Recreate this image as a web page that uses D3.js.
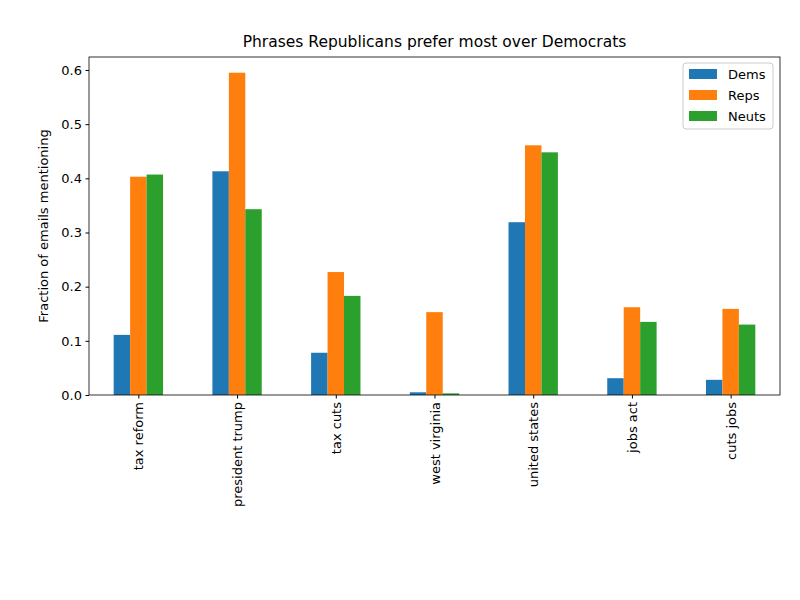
<!DOCTYPE html>
<html><head><meta charset="utf-8">
<script src="https://cdn.jsdelivr.net/npm/d3@7"></script>
<style>body{margin:0;background:#fff}text{font-family:"DejaVu Sans",sans-serif}</style>
</head><body>
<svg id="c" width="800" height="600"></svg>
<script>
const phrases = ['tax reform','president trump','tax cuts','west virginia','united states','jobs act','cuts jobs'];
const seriesNames = ['Dems','Reps','Neuts'];
const dems  = [0.111,0.413,0.078,0.005,0.319,0.031,0.028];
const reps  = [0.403,0.595,0.227,0.153,0.461,0.162,0.159];
const neuts = [0.407,0.343,0.183,0.003,0.448,0.135,0.130];
const colors = ['#1f77b4','#ff7f0e','#2ca02c'];
const yTicks = [0,0.1,0.2,0.3,0.4,0.5,0.6];

const svg = d3.select('#c');
const L = 89, R = 780, T = 57, B = 395;
const x = d3.scaleLinear().domain([-0.5, phrases.length - 0.5]).range([L, R]);
const y = d3.scaleLinear().domain([0, 0.624]).range([B, T]);
const series = [dems, reps, neuts];
const bw = 0.5 / 3;

series.forEach((vals, s) => {
  svg.append('g').selectAll('rect').data(vals).join('rect')
    .attr('x', (d, i) => x(i - 0.25 + s * bw))
    .attr('width', x(bw) - x(0))
    .attr('y', d => y(d))
    .attr('height', d => y(0) - y(d))
    .attr('fill', colors[s]);
});

const ya = svg.append('g').attr('transform', `translate(${L},0)`)
  .call(d3.axisLeft(y).tickValues(yTicks).tickFormat(d3.format('.1f')).tickSize(3.5).tickPadding(3.5));
ya.selectAll('text').style('font-size', '13px').attr('fill', '#000');
ya.select('.domain').remove();

const xa = svg.append('g').attr('transform', `translate(0,${B})`)
  .call(d3.axisBottom(x).tickValues(d3.range(phrases.length)).tickFormat(i => phrases[i]).tickSize(3.5));
xa.select('.domain').remove();
xa.selectAll('text').style('font-size', '13px').attr('fill', '#000')
  .attr('transform', 'rotate(-90)').attr('text-anchor', 'end')
  .attr('x', -7).attr('y', 0).attr('dy', '0.35em');

svg.append('rect').attr('x', L).attr('y', T).attr('width', R - L).attr('height', B - T)
  .attr('fill', 'none').attr('stroke', '#000').attr('stroke-width', 0.8);

svg.append('text').attr('x', (L + R) / 2).attr('y', 47).attr('text-anchor', 'middle')
  .style('font-size', '15.5px').text('Phrases Republicans prefer most over Democrats');
svg.append('text').attr('transform', `translate(48,${(T + B) / 2}) rotate(-90)`)
  .attr('text-anchor', 'middle').style('font-size', '13px').text('Fraction of emails mentioning');

const lg = svg.append('g');
lg.append('rect').attr('x', 683).attr('y', 63).attr('width', 90).attr('height', 66).attr('rx', 3)
  .attr('fill', '#fff').attr('fill-opacity', 0.8).attr('stroke', '#ccc');
seriesNames.forEach((n, i) => {
  lg.append('rect').attr('x', 689).attr('y', 69 + i * 21).attr('width', 28).attr('height', 10).attr('fill', colors[i]);
  lg.append('text').attr('x', 728).attr('y', 74 + i * 21).attr('dy', '0.35em').style('font-size', '13px').text(n);
});
</script>
</body></html>
